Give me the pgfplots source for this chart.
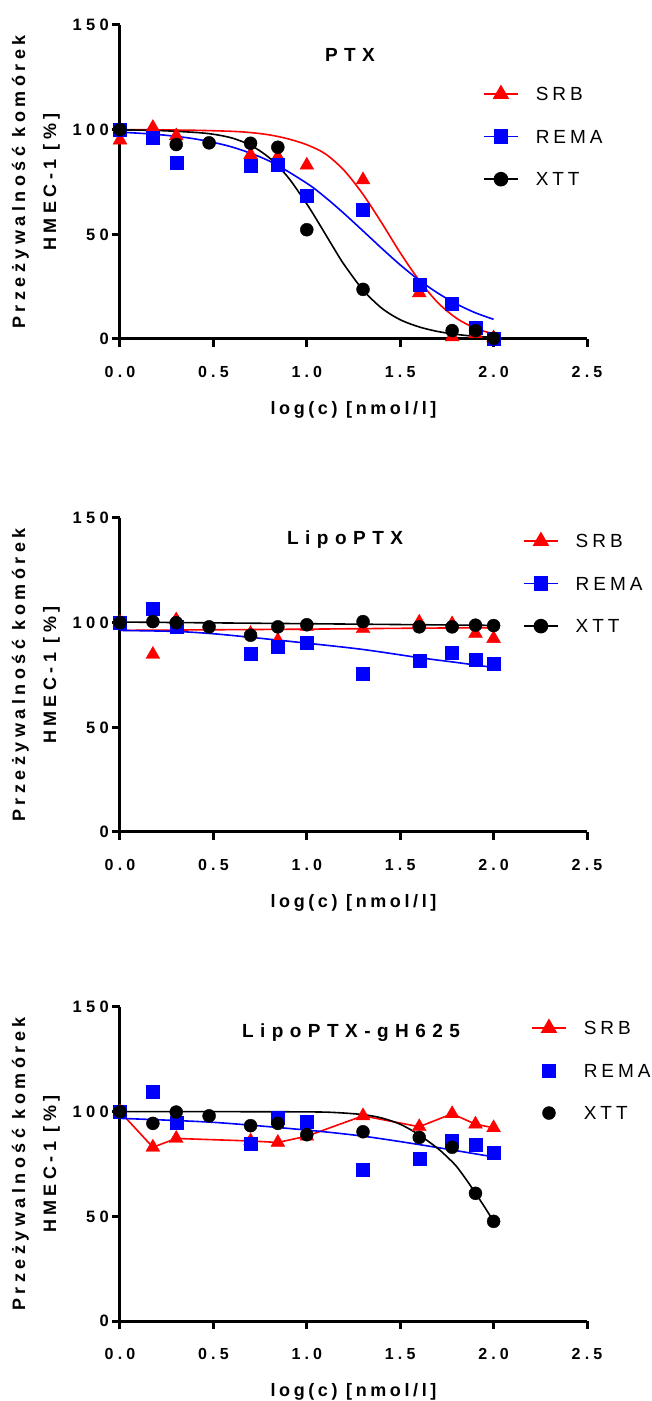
\documentclass[border=0pt]{standalone}
\usepackage{fontspec}
\setmainfont{Liberation Sans}
\newfontfamily\tickf{Liberation Sans}[LetterSpace=26]
\newfontfamily\labf{Liberation Sans}[LetterSpace=20]
\newfontfamily\ylabf{Liberation Sans}[LetterSpace=25]
\newfontfamily\titf{Liberation Sans}[LetterSpace=34]
\newfontfamily\legf{Liberation Sans}[LetterSpace=21]
\usepackage{pgfplots}
\pgfplotsset{compat=1.18}
\pgfplotsset{
 panel/.style={
  scale only axis, width=467pt, height=314pt,
  xmin=0, xmax=2.5, ymin=0, ymax=150,
  axis lines=left,
  axis line style={line width=3pt,-},
  xtick={0,0.5,1,1.5,2,2.5}, ytick={0,50,100,150},
  minor tick num=0,
  tick align=outside, major tick length=8pt,
  tick style={line width=3pt, black},
  xticklabel style={font=\fontsize{16}{19}\selectfont\tickf\bfseries, anchor=base, inner sep=0pt, yshift=-30.7pt, /pgf/number format/.cd, fixed, fixed zerofill, precision=1, assume math mode=true},
  yticklabel style={font=\fontsize{16.5}{19}\selectfont\tickf\bfseries, anchor=east, inner sep=0pt, xshift=-3pt, /pgf/number format/.cd, fixed, assume math mode=true},
  xlabel={log(c) [nmol/l]},
  xlabel style={font=\fontsize{18}{22}\selectfont\labf\bfseries, at={(axis description cs:0.5,-0.2389)}, anchor=base},
  ylabel={Przeżywalność komórek\\HMEC-1 [\%]},
  ylabel style={font=\fontsize{18}{31}\selectfont\ylabf\bfseries, align=center, at={(axis description cs:-0.180,0.5)}, anchor=center},
  title style={font=\fontsize{19}{22}\selectfont\titf\bfseries, anchor=base},
  clip=false,
  legend style={draw=none, fill=none, inner sep=0pt, anchor=west, row sep=29.5pt, column sep=17pt, font=\fontsize{19}{22}\selectfont\legf, nodes={inner sep=0pt, text height=13pt, text depth=0pt}},
  legend cell align=left,
  legend image code/.code={\draw[mark repeat=2,mark phase=2] plot coordinates {(0pt,0pt) (17pt,0pt) (34pt,0pt)};},
 },
 srbm/.style={only marks, mark=triangle*, mark size=8pt, color=red, mark options={solid, fill=red, draw=red}},
 remam/.style={only marks, mark=square*, mark size=6.5pt, color=blue, mark options={solid, fill=blue, draw=blue}},
 xttm/.style={only marks, mark=*, mark size=6.5pt, color=black, mark options={solid, fill=black, draw=black}},
 fitc/.style={no marks, line width=1.6pt, smooth},
}
\begin{document}
\begin{tikzpicture}
\path[use as bounding box] (0pt,0pt) rectangle (651pt,1401pt);

% ---------------- Panel 1: PTX ----------------
\begin{axis}[panel, at={(120pt,1062pt)}, anchor=south west,
  title={PTX}, title style={at={(axis description cs:0.4925,0.866)}},
  legend style={at={(axis cs:1.943,97)}}]
\addlegendimage{red, line width=1.6pt, mark=triangle*, mark size=8pt, mark options={solid, fill=red}}
\addlegendentry{SRB}
\addlegendimage{blue, line width=1.6pt, mark=square*, mark size=6.5pt, mark options={solid, fill=blue}}
\addlegendentry{REMA}
\addlegendimage{black, line width=1.6pt, mark=*, mark size=6.5pt, mark options={solid, fill=black}}
\addlegendentry{XTT}
\addplot[fitc, red, forget plot] coordinates {(0,100) (0.2,99.9) (0.4,99.7) (0.6,99.2) (0.7,98.6) (0.8,97.5) (0.9,95.6) (1.0,92.8) (1.1,88.4) (1.2,80.5) (1.3,69.2) (1.4,55.6) (1.5,41.2) (1.6,28.2) (1.7,17.5) (1.8,10) (1.9,5.2) (2.0,2.4)};
\addplot[fitc, blue, forget plot] coordinates {(0,98.8) (0.2,97.7) (0.4,95.6) (0.6,91.7) (0.8,85.0) (1.0,74.4) (1.1,67.6) (1.2,59.9) (1.3,51.7) (1.4,43.4) (1.5,35.4) (1.6,28.2) (1.7,22.0) (1.8,16.8) (1.9,12.6) (2.0,9.4)};
\addplot[fitc, black, forget plot] coordinates {(0,99.9) (0.2,99.6) (0.4,98.7) (0.5,97.8) (0.6,96.0) (0.7,92.5) (0.8,86.5) (0.9,77.2) (1.0,64.5) (1.05,57.4) (1.1,50) (1.15,42.6) (1.2,35.5) (1.3,23.5) (1.4,14.8) (1.5,9.2) (1.6,5.8) (1.7,3.6) (1.8,2.2) (1.9,1.3) (2.0,0.8)};
\addplot[srbm, forget plot] coordinates {(0,95) (0.176,101) (0.301,97) (0.699,88) (0.845,87) (1.0,83) (1.301,76) (1.602,22) (1.778,1) (1.903,2.5) (2.0,0.5)};
\addplot[remam, forget plot] coordinates {(0,100) (0.176,96.3) (0.301,84) (0.699,83) (0.845,83.3) (1.0,68.3) (1.301,61.7) (1.602,25.7) (1.778,16.7) (1.903,5.6) (2.0,0)};
\addplot[xttm, forget plot] coordinates {(0,100) (0.301,92.9) (0.477,93.7) (0.699,93.5) (0.845,91.6) (1.0,52.2) (1.301,23.7) (1.778,4) (1.903,4) (2.0,0.3)};
\end{axis}

% ---------------- Panel 2: LipoPTX ----------------
\begin{axis}[panel, at={(120pt,569pt)}, anchor=south west,
  title={LipoPTX}, title style={at={(axis description cs:0.482,0.895)}},
  legend style={at={(axis cs:2.157,119)}}]
\addlegendimage{red, line width=1.6pt, mark=triangle*, mark size=8pt, mark options={solid, fill=red}}
\addlegendentry{SRB}
\addlegendimage{blue, line width=1.6pt, mark=square*, mark size=6.5pt, mark options={solid, fill=blue}}
\addlegendentry{REMA}
\addlegendimage{black, line width=1.6pt, mark=*, mark size=6.5pt, mark options={solid, fill=black}}
\addlegendentry{XTT}
\addplot[fitc, black, forget plot] coordinates {(0,100.3) (0.5,99.9) (1.0,99.5) (1.5,99.1) (2.0,98.7)};
\addplot[fitc, red, forget plot] coordinates {(0,96.3) (0.5,96.6) (1.0,96.9) (1.5,97.3) (2.0,97.6)};
\addplot[fitc, blue, forget plot] coordinates {(0,96.3) (0.3,95.8) (0.5,94.7) (0.7,93.0) (1.0,90.2) (1.3,87.2) (1.6,83.3) (1.8,81.0) (2.0,78.6)};
\addplot[srbm, forget plot] coordinates {(0,100) (0.176,84.8) (0.301,101.3) (0.699,94.8) (0.845,91.5) (1.0,98.2) (1.301,97.1) (1.602,100.2) (1.778,99.4) (1.903,94.8) (2.0,92.4)};
\addplot[remam, forget plot] coordinates {(0,100) (0.176,106.8) (0.301,98.1) (0.699,85.2) (0.845,88.6) (1.0,90.5) (1.301,75.5) (1.602,81.7) (1.778,85.7) (1.903,82.5) (2.0,80.2)};
\addplot[xttm, forget plot] coordinates {(0,100) (0.176,100.5) (0.301,100) (0.477,98) (0.699,94) (0.845,98) (1.0,99) (1.301,100.5) (1.602,98) (1.778,98) (1.903,98.8) (2.0,98.6)};
\end{axis}

% ---------------- Panel 3: LipoPTX-gH625 ----------------
\begin{axis}[panel, at={(120pt,80pt)}, anchor=south west,
  title={LipoPTX-gH625}, title style={at={(axis description cs:0.4946,0.885)}},
  legend style={at={(axis cs:2.200,120)}}]
\addlegendimage{red, line width=1.6pt, mark=triangle*, mark size=8pt, mark options={solid, fill=red}}
\addlegendentry{SRB}
\addlegendimage{only marks, blue, mark=square*, mark size=6.5pt, mark options={solid, fill=blue}}
\addlegendentry{REMA}
\addlegendimage{only marks, black, mark=*, mark size=6.5pt, mark options={solid, fill=black}}
\addlegendentry{XTT}
\addplot[no marks, red, line width=1.6pt, forget plot] coordinates {(0,100) (0.176,83) (0.301,87.2) (0.699,86) (0.845,85.3) (1.0,88.3) (1.301,98) (1.602,92.8) (1.778,99) (1.903,94) (2.0,92.3)};
\addplot[fitc, blue, forget plot] coordinates {(0,96.8) (0.5,94.9) (1.0,91.2) (1.3,88.3) (1.6,84.3) (2.0,78.4)};
\addplot[fitc, black, forget plot] coordinates {(0,100) (0.5,100) (1.0,99.9) (1.15,99.6) (1.3,98.6) (1.4,97) (1.5,94) (1.6,89) (1.7,82.5) (1.75,78.5) (1.8,74) (1.85,68) (1.9,61.5) (1.95,54.7) (2.0,47.6)};
\addplot[srbm, forget plot] coordinates {(0,100) (0.176,83) (0.301,87.2) (0.699,86) (0.845,85.3) (1.0,88.3) (1.301,98) (1.602,92.8) (1.778,99) (1.903,94) (2.0,92.3)};
\addplot[remam, forget plot] coordinates {(0,100) (0.176,109.3) (0.301,94.7) (0.699,84.8) (0.845,97.3) (1.0,95) (1.301,72.4) (1.602,77.3) (1.778,86) (1.903,84) (2.0,80.5)};
\addplot[xttm, forget plot] coordinates {(0,100) (0.176,94.4) (0.301,99.8) (0.477,98) (0.699,93.3) (0.845,94.4) (1.0,89) (1.301,90.4) (1.602,87.7) (1.778,83) (1.903,61) (2.0,47.6)};
\end{axis}
\end{tikzpicture}
\end{document}
